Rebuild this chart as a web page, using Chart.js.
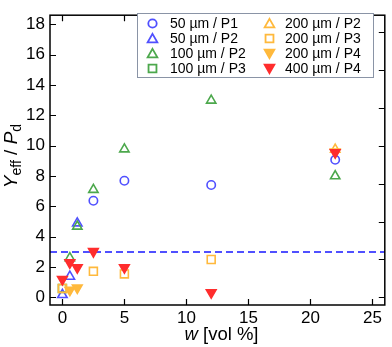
<!DOCTYPE html>
<html>
<head>
<meta charset="utf-8">
<script src="https://cdn.jsdelivr.net/npm/chart.js@4/dist/chart.umd.min.js"></script>
<style>
html,body{margin:0;padding:0;background:#fff;}
#wrap{width:392px;height:347px;position:relative;}
</style>
</head>
<body>
<div id="wrap"><canvas id="c" width="392" height="347"></canvas></div>
<script>
// ---- data ----
const seriesLabels = ['50 µm / P1','50 µm / P2','100 µm / P2','100 µm / P3','200 µm / P2','200 µm / P3','200 µm / P4','400 µm / P4'];
const x50P1 = [2.5, 5, 12, 22];
const y50P1 = [6.37, 7.69, 7.41, 9.07];
const x50P2 = [0, 0.6, 1.2];
const y50P2 = [0.17, 1.38, 4.89];
const x100P2 = [0.6, 1.2, 2.5, 5, 12, 22];
const y100P2 = [2.6, 4.68, 7.1, 9.77, 12.98, 8.0];
const x100P3 = [0];
const y100P3 = [0.59];
const x200P2 = [22];
const y200P2 = [9.75];
const x200P3 = [0, 2.5, 5, 12];
const y200P3 = [0.59, 1.72, 1.55, 2.5];
const x200P4 = [0.6, 1.2, 22];
const y200P4 = [0.49, 0.63, 9.6];
const x400P4 = [0, 0.6, 1.2, 2.5, 5, 12, 22];
const y400P4 = [1.19, 2.29, 1.97, 3.03, 1.97, 0.32, 9.55];
const thresholdY = 3;
const xTicks = [0, 5, 10, 15, 20, 25];
const yTicksLeft = [0, 2, 4, 6, 8, 10, 12, 14, 16, 18];
const yTicksRight = [0, 2.5, 5, 7.5, 10, 12.5, 15, 17.5];

// ---- styles ----
const BLUE = 'rgb(80,80,255)', GREEN = 'rgb(76,168,76)', ORANGE = 'rgb(255,185,60)', RED = 'rgb(255,45,45)';
const FONT = "'Liberation Sans', Arial, sans-serif";
const pts = (xs, ys) => xs.map((x, i) => ({x: x, y: ys[i]}));

const styles = [
  {c: BLUE, shape: 'circle', fill: false},
  {c: BLUE, shape: 'tri', fill: false},
  {c: GREEN, shape: 'tri', fill: false},
  {c: GREEN, shape: 'rect', fill: false},
  {c: ORANGE, shape: 'tri', fill: false},
  {c: ORANGE, shape: 'rect', fill: false},
  {c: ORANGE, shape: 'down', fill: true},
  {c: RED, shape: 'down', fill: true}
];
const dataPairs = [[x50P1,y50P1],[x50P2,y50P2],[x100P2,y100P2],[x100P3,y100P3],[x200P2,y200P2],[x200P3,y200P3],[x200P4,y200P4],[x400P4,y400P4]];

function dsFor(i) {
  const s = styles[i];
  const base = {
    type: 'scatter', label: seriesLabels[i], data: pts(dataPairs[i][0], dataPairs[i][1]),
    borderColor: s.c, backgroundColor: s.fill ? s.c : 'rgba(0,0,0,0)',
    pointBorderWidth: 1.6, order: 8 - i
  };
  if (s.shape === 'circle') { base.pointStyle = 'circle'; base.pointRadius = 4.2; }
  else if (s.shape === 'rect') { base.pointStyle = 'rect'; base.pointRadius = 5.6; }
  else if (s.shape === 'tri') { base.pointStyle = 'triangle'; base.pointRadius = 5.4; }
  else { base.pointStyle = 'triangle'; base.pointRadius = 5.6; base.rotation = 180; }
  base.pointHoverRadius = base.pointRadius;
  return base;
}

const datasets = styles.map((s, i) => dsFor(i));
datasets.push({
  type: 'line', label: 'threshold', data: [{x: -1, y: thresholdY}, {x: 26, y: thresholdY}],
  borderColor: BLUE, borderWidth: 2, borderDash: [7, 4], pointRadius: 0, order: 20
});

function markerPath(ctx, shape, x, y) {
  ctx.beginPath();
  if (shape === 'circle') { ctx.arc(x, y, 4.2, 0, Math.PI * 2); }
  else if (shape === 'rect') { const s = 5.6 * Math.SQRT1_2; ctx.rect(x - s, y - s, 2 * s, 2 * s); }
  else {
    const r = 5.6, sgn = shape === 'down' ? -1 : 1;
    for (let k = 0; k < 3; k++) {
      const a = k * 2 * Math.PI / 3;
      const px = x + Math.sin(a) * r, py = y - sgn * Math.cos(a) * r;
      if (k === 0) ctx.moveTo(px, py); else ctx.lineTo(px, py);
    }
    ctx.closePath();
  }
}

function measureRich(ctx, parts, size, subSize) {
  let w = 0;
  const measure = [];
  parts.forEach(p => {
    ctx.font = (p.it ? 'italic ' : '') + (p.sub ? subSize : size) + 'px ' + FONT;
    const mw = ctx.measureText(p.t).width;
    measure.push(mw); w += mw;
  });
  return {w, measure};
}
function paintRich(ctx, parts, size, subSize, x0, y0) {
  const m = measureRich(ctx, parts, size, subSize);
  let x = x0 - m.w / 2;
  parts.forEach((p, i) => {
    ctx.font = (p.it ? 'italic ' : '') + (p.sub ? subSize : size) + 'px ' + FONT;
    ctx.fillText(p.t, x, y0 + (p.sub ? 4.5 : 0));
    x += m.measure[i];
  });
}

const framePlugin = {
  id: 'frame',
  afterDraw(chart) {
    const ctx = chart.ctx, a = chart.chartArea, xs = chart.scales.x, ys = chart.scales.y;
    ctx.save();
    ctx.strokeStyle = '#000'; ctx.lineWidth = 1.5;
    ctx.strokeRect(a.left, a.top, a.right - a.left, a.bottom - a.top);
    const TL = 6;
    ctx.lineWidth = 1.2;
    ctx.beginPath();
    xTicks.forEach(v => {
      const px = Math.round(xs.getPixelForValue(v)) + 0.5;
      ctx.moveTo(px, a.bottom); ctx.lineTo(px, a.bottom - TL);
      ctx.moveTo(px, a.top); ctx.lineTo(px, a.top + TL);
    });
    yTicksLeft.forEach(v => {
      const py = Math.round(ys.getPixelForValue(v)) + 0.5;
      ctx.moveTo(a.left, py); ctx.lineTo(a.left + TL, py);
    });
    yTicksRight.forEach(v => {
      const py = Math.round(ys.getPixelForValue(v)) + 0.5;
      ctx.moveTo(a.right, py); ctx.lineTo(a.right - TL, py);
    });
    ctx.stroke();

    // legend
    const lx = 137.5, ly = 13.5, lw = 236, lh = 64;
    ctx.fillStyle = '#fff';
    ctx.fillRect(lx, ly, lw, lh);
    ctx.strokeStyle = '#8a94a6'; ctx.lineWidth = 1;
    ctx.strokeRect(lx, ly, lw, lh);
    ctx.font = '14px ' + FONT;
    ctx.textBaseline = 'middle';
    const rowsY = [23.5, 38.5, 53.5, 68.5];
    for (let i = 0; i < 8; i++) {
      const col = Math.floor(i / 4), row = i % 4;
      const mx = col === 0 ? 152.5 : 269.5, tx = col === 0 ? 170 : 285;
      const y = rowsY[row];
      const s = styles[i];
      markerPath(ctx, s.shape, mx, y + (s.shape === 'tri' ? 1 : s.shape === 'down' ? -1 : 0));
      ctx.lineWidth = 1.8; ctx.strokeStyle = s.c;
      if (s.fill) { ctx.fillStyle = s.c; ctx.fill(); }
      ctx.stroke();
      ctx.fillStyle = '#000';
      ctx.font = '14px ' + FONT;
      ctx.fillText(seriesLabels[i], tx, y + 1);
    }

    // axis titles
    ctx.fillStyle = '#000';
    ctx.textBaseline = 'alphabetic';
    paintRich(ctx, [{t: 'w', it: true}, {t: ' [vol %]'}], 18.5, 13, 221.5, 340);
    ctx.save();
    ctx.translate(16.5, 156);
    ctx.rotate(-Math.PI / 2);
    paintRich(ctx, [{t: 'Y', it: true}, {t: 'eff', sub: true}, {t: ' / '}, {t: 'P', it: true}, {t: 'd', sub: true}], 19, 14, 0, 0);
    ctx.restore();
    ctx.restore();
  }
};

new Chart(document.getElementById('c'), {
  data: {datasets},
  options: {
    responsive: false, animation: false,
    layout: {padding: {top: 3, right: 4, left: 0, bottom: 0}},
    plugins: {legend: {display: false}, tooltip: {enabled: false}},
    scales: {
      x: {
        type: 'linear', min: -1, max: 26,
        afterBuildTicks: s => { s.ticks = xTicks.map(v => ({value: v})); },
        afterFit: s => { s.height = 42; },
        grid: {display: false, drawTicks: false},
        border: {display: false},
        ticks: {font: {family: FONT, size: 17}, color: '#000', padding: 3, maxRotation: 0, autoSkip: false}
      },
      y: {
        type: 'linear', min: -0.5, max: 18.6,
        afterBuildTicks: s => { s.ticks = yTicksLeft.map(v => ({value: v})); },
        afterFit: s => { s.width = 50; },
        grid: {display: false, drawTicks: false},
        border: {display: false},
        ticks: {font: {family: FONT, size: 17}, color: '#000', padding: 5, autoSkip: false}
      }
    }
  },
  plugins: [framePlugin]
});
</script>
</body>
</html>
